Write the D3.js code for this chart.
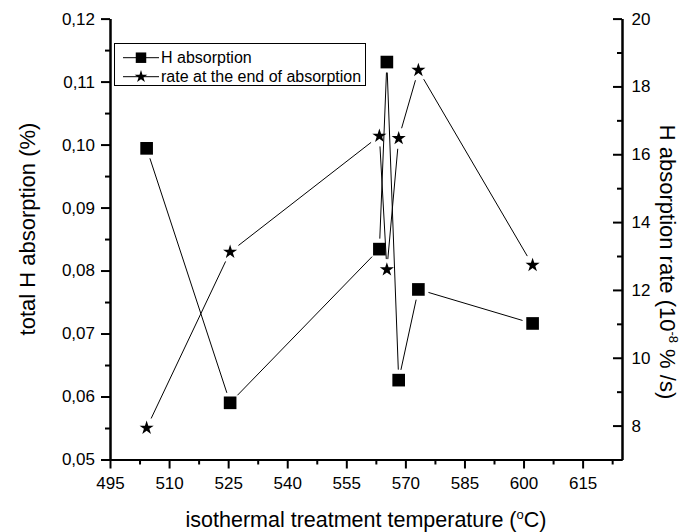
<!DOCTYPE html>
<html>
<head>
<meta charset="utf-8">
<script src="https://cdn.jsdelivr.net/npm/d3@7"></script>
<style>
  body { margin: 0; background: #fff; }
  text { font-family: "Liberation Sans", Arial, sans-serif; fill: #000; }
</style>
</head>
<body>
<div id="canvas"></div>
<script>
// temperatures (°C) of the isothermal treatments
let temps = [504.3, 525.5, 563.4, 565.3, 568.3, 573.3, 602.3]
// total H absorption (%), left axis
let absorption = [0.0994, 0.0590, 0.0834, 0.1131, 0.0626, 0.0770, 0.0716]
// rate at the end of absorption (10^-8 %/s), right axis
let rate = [7.93, 13.12, 16.54, 12.60, 16.47, 18.48, 12.73]

let xTicks = [495, 510, 525, 540, 555, 570, 585, 600, 615]
let leftTicks = [0.05, 0.06, 0.07, 0.08, 0.09, 0.10, 0.11, 0.12]
let rightTicks = [8, 10, 12, 14, 16, 18, 20]

let legendLabels = ["H absorption", "rate at the end of absorption"]

let svg = {}
let x, yL, yR

window.onload = function () { setup() }

function setup() {
  svg = d3.select("#canvas")
    .append("svg")
    .attr("width", 684)
    .attr("height", 532)

  x = d3.scaleLinear().domain([495, 625]).range([110, 622])
  yL = d3.scaleLinear().domain([0.05, 0.12]).range([459.5, 18.6])
  yR = d3.scaleLinear().domain([7, 20]).range([459.5, 18.6])

  drawAxes()
  drawSeries(absorption, yL, "square")
  drawSeries(rate, yR, "star")
  drawLegend()
  drawTitles()
}

function comma(d) {
  return d3.format(".2f")(d).replace(".", ",")
}

function styleAxis(g) {
  g.selectAll("path, line").attr("stroke", "#000").attr("stroke-width", 2)
  g.selectAll("text").style("font-size", "17px").style("font-family", "Liberation Sans, Arial, sans-serif")
}

function drawAxes() {
  let xMinor = d3.range(502.5, 625, 15)
  let lMinor = d3.range(0.055, 0.12, 0.01)
  let rMinor = d3.range(9, 20, 2)

  // bottom
  svg.append("g").attr("transform", "translate(0,459.5)")
    .call(d3.axisBottom(x).tickValues(xMinor).tickSize(5).tickSizeOuter(0).tickFormat(""))
    .call(styleAxis)
  svg.append("g").attr("transform", "translate(0,459.5)")
    .call(d3.axisBottom(x).tickValues(xTicks).tickSize(9).tickSizeOuter(0).tickPadding(8).tickFormat(d3.format("d")))
    .call(styleAxis)

  // left
  svg.append("g").attr("transform", "translate(110,0)")
    .call(d3.axisLeft(yL).tickValues(lMinor).tickSize(5).tickSizeOuter(0).tickFormat(""))
    .call(styleAxis)
  svg.append("g").attr("transform", "translate(110,0)")
    .call(d3.axisLeft(yL).tickValues(leftTicks).tickSize(9).tickSizeOuter(0).tickPadding(6).tickFormat(comma))
    .call(styleAxis)

  // right, ticks pointing inward
  svg.append("g").attr("transform", "translate(622,0)")
    .call(d3.axisRight(yR).tickValues(rMinor).tickSize(-5).tickSizeOuter(0).tickFormat(""))
    .call(styleAxis)
  svg.append("g").attr("transform", "translate(622,0)")
    .call(d3.axisRight(yR).tickValues(rightTicks).tickSize(-9).tickSizeOuter(0).tickPadding(9.5).tickFormat(d3.format("d")))
    .call(styleAxis)
}

function symbolPath(kind) {
  if (kind == "square") return d3.symbol(d3.symbolSquare, 160)()
  return d3.symbol(d3.symbolStar, 62)()
}

function drawSeries(values, yScale, kind) {
  let pts = values.map((v, i) => [x(temps[i]), yScale(v)])
  let gap = 10.5
  let segs = []
  for (let i = 0; i < pts.length - 1; i++) {
    let a = pts[i], b = pts[i + 1]
    let dx = b[0] - a[0], dy = b[1] - a[1]
    let len = Math.sqrt(dx * dx + dy * dy)
    if (len <= 2 * gap) continue
    let ux = dx / len, uy = dy / len
    segs.push([a[0] + ux * gap, a[1] + uy * gap, b[0] - ux * gap, b[1] - uy * gap])
  }

  svg.append("g").selectAll("line")
    .data(segs)
    .join("line")
    .attr("x1", d => d[0]).attr("y1", d => d[1])
    .attr("x2", d => d[2]).attr("y2", d => d[3])
    .attr("stroke", "#000")
    .attr("stroke-width", 1)

  svg.append("g").selectAll("path")
    .data(pts)
    .join("path")
    .attr("d", symbolPath(kind))
    .attr("transform", d => "translate(" + d[0] + "," + d[1] + ")")
    .attr("fill", "#000")
}

function drawLegend() {
  let g = svg.append("g")
  g.append("rect")
    .attr("x", 114.5).attr("y", 43.5)
    .attr("width", 251).attr("height", 42)
    .attr("fill", "#fff").attr("stroke", "#000").attr("stroke-width", 1)

  let kinds = ["square", "star"]
  let rows = [57.7, 76.7]
  legendLabels.forEach((label, i) => {
    g.append("line")
      .attr("x1", 123).attr("x2", 159)
      .attr("y1", rows[i]).attr("y2", rows[i])
      .attr("stroke", "#000").attr("stroke-width", 1)
    g.append("path")
      .attr("d", kinds[i] == "square" ? d3.symbol(d3.symbolSquare, 110)() : d3.symbol(d3.symbolStar, 50)())
      .attr("transform", "translate(141," + rows[i] + ")")
    g.append("text")
      .attr("x", 161).attr("y", rows[i] + 5.5)
      .style("font-size", "16px")
      .text(label)
  })
}

function drawTitles() {
  let xt = svg.append("text")
    .attr("x", 366).attr("y", 527)
    .attr("text-anchor", "middle")
    .style("font-size", "21.5px")
  xt.append("tspan").text("isothermal treatment temperature (")
  xt.append("tspan").attr("dy", -8).style("font-size", "13px").text("o")
  xt.append("tspan").attr("dy", 8).text("C)")

  svg.append("text")
    .attr("transform", "translate(35,229) rotate(-90)")
    .attr("text-anchor", "middle")
    .style("font-size", "22px")
    .text("total H absorption (%)")

  let rt = svg.append("text")
    .attr("transform", "translate(660,262) rotate(90)")
    .attr("text-anchor", "middle")
    .style("font-size", "22px")
  rt.append("tspan").text("H absorption rate (10")
  rt.append("tspan").attr("dy", -9).style("font-size", "13px").text("-8")
  rt.append("tspan").attr("dy", 9).text(" % /s)")
}
</script>
</body>
</html>
